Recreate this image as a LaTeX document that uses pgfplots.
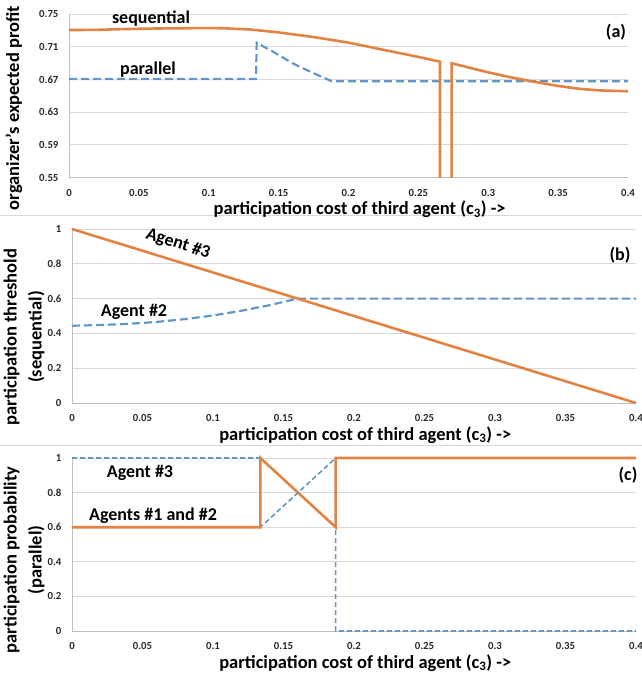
\documentclass[border=0pt]{standalone}
\usepackage{fontspec}
\setmainfont{Carlito}
\usepackage{pgfplots}
\pgfplotsset{compat=1.18}

\definecolor{seqorange}{RGB}{226,131,68}
\definecolor{parblue}{RGB}{98,150,201}
\definecolor{gridgray}{RGB}{217,217,217}
\definecolor{axisgray}{RGB}{191,191,191}
\definecolor{ticktext}{RGB}{40,40,40}

\newcommand{\lblfont}{\fontsize{18}{25}\selectfont\bfseries}
\newcommand{\ttlfont}{\fontsize{18.5}{25}\selectfont\bfseries}

\pgfplotsset{
  panel/.style={
    scale only axis,
    anchor=south west,
    xmin=0, xmax=0.4,
    xtick={0,0.05,0.1,0.15,0.2,0.25,0.3,0.35,0.4},
    enlargelimits=false,
    axis lines*=left,
    axis line style={draw=axisgray, line width=0.8pt, -},
    ymajorgrids,
    grid style={draw=gridgray, line width=0.8pt},
    major tick length=0pt,
    tick label style={font=\fontsize{10.8}{12}\selectfont\bfseries, text=ticktext},
    /pgf/number format/assume math mode=true,
    /pgf/number format/fixed,
    /pgf/number format/precision=2,
    xticklabel style={yshift=-8pt},
    yticklabel style={xshift=-7pt},
    xlabel={participation cost of third agent (c\textsubscript{3}) ->},
    xlabel style={at={(axis description cs:0.52,0)}, anchor=center,
                  yshift=-32pt, font=\ttlfont},
  },
  seq/.style={draw=seqorange, line width=2.6pt, no markers},
  par/.style={draw=parblue, line width=2.2pt, no markers,
              dash pattern=on 8pt off 4pt},
}

\begin{document}
\begin{tikzpicture}
\path[use as bounding box] (0,0) rectangle (642pt,-675pt);

% separators between the three charts
\draw[gridgray, line width=0.8pt] (0pt,-215pt) -- (642pt,-215pt);
\draw[gridgray, line width=0.8pt] (0pt,-445pt) -- (642pt,-445pt);

% (a) organizer's expected profit
\begin{axis}[panel,
  at={(69pt,-177.5pt)}, width=559pt, height=163.5pt,
  ymin=0.55, ymax=0.75,
  ytick={0.55,0.59,0.63,0.67,0.71,0.75},
]
  \addplot[par] coordinates {
    (0,0.6705) (0.1338,0.6705) (0.1343,0.7149) (0.146,0.7039)
    (0.160,0.6897) (0.175,0.6775) (0.188,0.6678) (0.4,0.6678)};
  \addplot[seq] coordinates {
    (0,0.7304) (0.02,0.7306) (0.04,0.7316) (0.06,0.7322) (0.08,0.7326)
    (0.10,0.7327) (0.11,0.7326) (0.13,0.7310) (0.15,0.7275) (0.175,0.7218)
    (0.20,0.7150) (0.225,0.7062) (0.25,0.6975) (0.2655,0.6917)
    (0.2655,0.50) (0.2738,0.50) (0.2738,0.6897) (0.285,0.6850)
    (0.30,0.6786) (0.315,0.6730) (0.33,0.6680) (0.35,0.6620)
    (0.365,0.6585) (0.38,0.6565) (0.40,0.6555)};
\end{axis}

% (b) participation threshold (sequential)
\begin{axis}[panel,
  at={(72pt,-403pt)}, width=564pt, height=174pt,
  ymin=0, ymax=1, clip=false,
  ytick={0,0.2,0.4,0.6,0.8,1},
]
  \addplot[par] coordinates {
    (0,0.444) (0.02,0.448) (0.04,0.455) (0.06,0.466) (0.08,0.482)
    (0.10,0.503) (0.12,0.530) (0.14,0.562) (0.16,0.600) (0.4,0.600)};
  \addplot[seq] coordinates {(0,1) (0.4,0)};
\end{axis}

% (c) participation probability (parallel)
\begin{axis}[panel,
  at={(72pt,-631pt)}, width=564pt, height=173pt,
  ymin=0, ymax=1, clip=false,
  ytick={0,0.2,0.4,0.6,0.8,1},
]
  \addplot[par, line width=1.6pt, dash pattern=on 5pt off 3pt] coordinates {
    (0,1) (0.1336,1) (0.1336,0.6) (0.187,1) (0.187,0) (0.4,0)};
  \addplot[seq] coordinates {
    (0,0.6) (0.1336,0.6) (0.1336,1) (0.187,0.6) (0.187,1) (0.4,1)};
\end{axis}

% y axis titles
\node[rotate=90, font=\ttlfont] at (14pt,-108pt) {organizer's expected profit};
\node[rotate=90, font=\ttlfont, align=center] at (24pt,-337pt)
  {participation threshold\\(sequential)};
\node[rotate=90, font=\ttlfont, align=center] at (24pt,-560pt)
  {participation probability\\(parallel)};

% annotations
\node[font=\lblfont] at (151pt,-19pt) {sequential};
\node[font=\lblfont] at (148pt,-70pt) {parallel};
\node[font=\lblfont] at (616pt,-32pt) {(a)};
\node[font=\lblfont, rotate=-18] at (178pt,-244pt) {Agent \#3};
\node[font=\lblfont] at (134pt,-312pt) {Agent \#2};
\node[font=\lblfont] at (620pt,-255pt) {(b)};
\node[font=\lblfont] at (140pt,-473pt) {Agent \#3};
\node[font=\lblfont] at (153pt,-516pt) {Agents \#1 and \#2};
\node[font=\lblfont] at (628pt,-475pt) {(c)};
\end{tikzpicture}
\end{document}
